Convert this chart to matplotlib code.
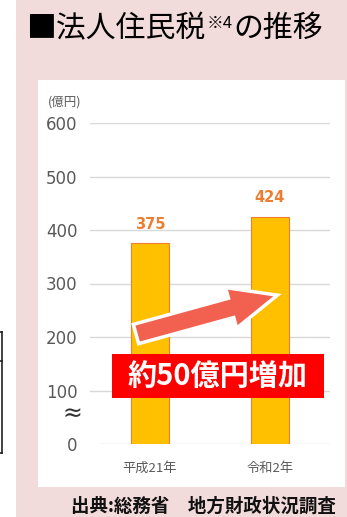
import matplotlib.pyplot as plt
import matplotlib.patches as mpatches
import matplotlib.lines as mlines
from matplotlib.transforms import Affine2D

plt.rcParams['font.family'] = ['Noto Sans CJK JP', 'DejaVu Sans']

# data
categories = ["平成21年", "令和2年"]
values = [375, 424]
yticks = [0, 100, 200, 300, 400, 500, 600]
unit_label = "(億円)"
increase_label = "約50億円増加"
source_label = "出典:総務省\u3000地方財政状況調査"

W, H = 347, 517
fig = plt.figure(figsize=(W / 100, H / 100), dpi=100)
fig.patch.set_facecolor("white")

# pixel helper (origin top-left)
px = Affine2D().scale(1 / W, -1 / H).translate(0, 1) + fig.transFigure


def rect(x0, y0, x1, y1, **kw):
    r = mpatches.Rectangle((x0, y0), x1 - x0, y1 - y0, transform=px, **kw)
    fig.add_artist(r)
    return r


# pink panel + white chart area
rect(16, 0, 347, 517, facecolor="#F2DCDB", edgecolor="none", zorder=0)
rect(38, 80, 345, 487, facecolor="white", edgecolor="none", zorder=0.5)

# table edge peeking in on the left
for xs, ys in [([0, 2], [332, 332]), ([0, 2], [361, 361]),
               ([0, 2], [453, 453]), ([2, 2], [332, 453])]:
    fig.add_artist(mlines.Line2D(xs, ys, transform=px, color="#222222", lw=1.2))

narrow = ["Liberation Sans Narrow", "DejaVu Sans"]

# main axes
ax = fig.add_axes([90 / W, 73 / H, 240 / W, 321 / H])
ax.set_facecolor("none")
ax.set_zorder(1)
x = range(len(categories))
ax.bar(x, values, width=0.32, color="#FFC000", edgecolor="#ED7D31", linewidth=0.8, zorder=2)
for xi, v in zip(x, values):
    ax.text(xi, v + 22, str(v), ha="center", va="bottom", color="#ED7D31",
            fontsize=10.5, fontweight="bold", family=narrow)

for t in yticks:
    ax.axhline(t, xmin=0.04 if t == 0 else 0, xmax=1, color="#D9D9D9", lw=1, zorder=1)

ax.set_xlim(-0.5, 1.5)
ax.set_ylim(0, 600)
ax.set_yticks(yticks)
ax.set_yticklabels([str(t) for t in yticks], family=narrow, fontsize=12, color="#595959")
ax.set_xticks(list(x))
ax.set_xticklabels(categories, fontsize=9.5, color="#595959")
ax.tick_params(axis="y", length=0, pad=9)
ax.tick_params(axis="x", length=0, pad=13)
for s in ax.spines.values():
    s.set_visible(False)

# unit and axis-break mark
fig.text(65 / W, 1 - 102 / H, unit_label, ha="center", va="center", fontsize=9, color="#595959")
fig.text(72 / W, 1 - 414 / H, "≈", ha="center", va="center", fontsize=17, color="#333333",
         family="DejaVu Sans")

# increase arrow
arrow = mpatches.FancyArrow(136, 183, 142 * 0.67, 39 * 0.67, width=20, head_width=42,
                            head_length=48, length_includes_head=False,
                            transform=Affine2D().scale(1 / W, 1 / H) + fig.transFigure,
                            facecolor="#F2604F", edgecolor="white", lw=2.5, zorder=5)
fig.add_artist(arrow)

# red callout
rect(112, 354, 324, 398, facecolor="#FF0000", edgecolor="none", zorder=6)
fig.text(218 / W, 1 - 376 / H, increase_label, ha="center", va="center", fontsize=21,
         fontweight="bold", color="white", zorder=7)

# title: main text, superscript note, then the rest
t1 = fig.text(26 / W, 1 - 37 / H, "■法人住民税", ha="left", va="baseline", fontsize=21.5,
              color="black")
sup = fig.text(0, 0, "※4", ha="left", va="top", fontsize=12, color="black")
fig.canvas.draw()
r = fig.canvas.get_renderer()
b1 = t1.get_window_extent(r)
sup.set_position(((b1.x1 + 1) / W, (b1.y1 - 2) / H))
fig.canvas.draw()
b2 = sup.get_window_extent(r)
fig.text((b2.x1 + 1) / W, 1 - 37 / H, "の推移", ha="left", va="baseline", fontsize=21.5,
         color="black")

# source
fig.text(71 / W, 1 - 506 / H, source_label, ha="left", va="center", fontsize=13.3,
         fontweight="bold", color="#111111")

fig.savefig("out.png", dpi=100)
